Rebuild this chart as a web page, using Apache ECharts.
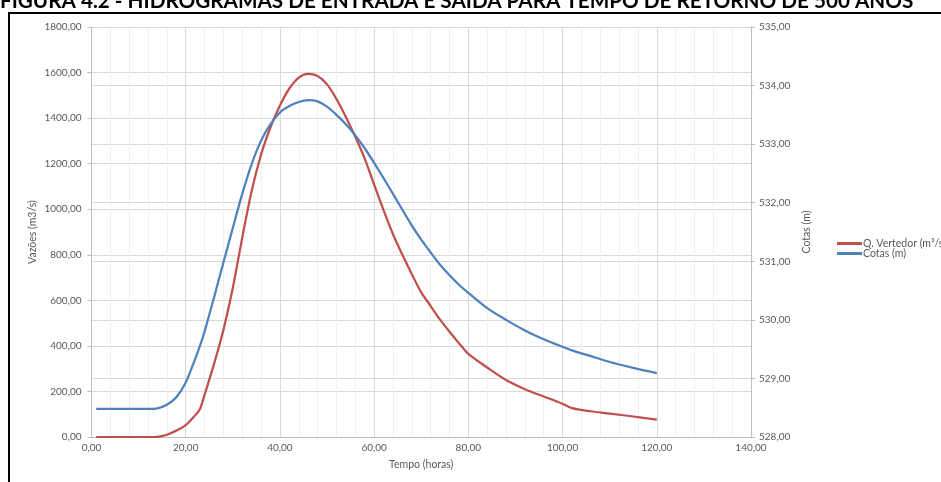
<!DOCTYPE html>
<html>
<head>
<meta charset="utf-8">
<script src="https://cdn.jsdelivr.net/npm/echarts@6/dist/echarts.min.js"></script>
<style>
html,body{margin:0;padding:0;background:#fff;}
#chart{width:941px;height:482px;}
</style>
</head>
<body>
<div id="chart"></div>
<script>
const titleText = 'FIGURA 4.2 - HIDROGRAMAS DE ENTRADA E SAÍDA PARA TEMPO DE RETORNO DE 500 ANOS';
const seriesNames = ['Q. Vertedor (m³/s)', 'Cotas (m)'];
const hours = [1, 4, 8, 12, 14, 16, 18, 20, 22, 23, 24, 26, 28, 30, 32, 34, 36, 38, 40, 42, 44, 46, 48, 50, 52, 54, 56, 58, 60, 62, 64, 66, 68, 70, 72, 74, 76, 78, 80, 84, 88, 92, 96, 100, 102, 106, 110, 115, 120];
const qVertedor = [0, 0, 0, 0, 1, 10, 28, 52, 95, 122, 185, 320, 470, 655, 875, 1080, 1240, 1360, 1455, 1530, 1578, 1594, 1585, 1548, 1484, 1405, 1318, 1222, 1108, 996, 890, 800, 715, 635, 575, 515, 462, 412, 365, 305, 250, 210, 178, 146, 127, 113, 103, 90, 76];
const cotas = [528.48, 528.48, 528.48, 528.48, 528.49, 528.55, 528.68, 528.93, 529.33, 529.55, 529.80, 530.38, 530.98, 531.57, 532.15, 532.66, 533.06, 533.34, 533.54, 533.65, 533.72, 533.75, 533.73, 533.64, 533.50, 533.34, 533.15, 532.93, 532.68, 532.42, 532.15, 531.88, 531.61, 531.37, 531.15, 530.94, 530.76, 530.60, 530.46, 530.20, 530.00, 529.82, 529.67, 529.54, 529.48, 529.38, 529.28, 529.18, 529.09];

const fmt = v => v.toFixed(2).replace('.', ',');
const labelStyle = {color: '#595959', fontSize: 10, fontFamily: 'Lato'};

const chart = echarts.init(document.getElementById('chart'), null, {renderer: 'canvas'});
chart.setOption({
  animation: false,
  backgroundColor: '#fff',
  graphic: [
    {type: 'rect', shape: {x: 9, y: 13, width: 1000, height: 600}, style: {fill: 'none', stroke: '#000', lineWidth: 2}, z: 100},
    {type: 'text', left: 0, top: -9, style: {text: titleText, font: 'bold 20.7px Lato', fill: '#000'}, z: 100}
  ],
  grid: {left: 91.5, right: 190, top: 27, bottom: 45},
  legend: {
    orient: 'vertical', left: 832, top: 233, icon: 'rect', itemWidth: 25, itemHeight: 3, itemGap: -1,
    textStyle: {color: '#595959', fontSize: 10.5, fontFamily: 'Lato', padding: [0, 0, 0, -4]},
    data: seriesNames
  },
  xAxis: {
    type: 'value', min: 0, max: 140, interval: 20,
    name: 'Tempo (horas)', nameLocation: 'middle', nameGap: 22,
    nameTextStyle: {color: '#595959', fontSize: 10.5, fontFamily: 'Lato'},
    axisLine: {show: true, lineStyle: {color: '#bfbfbf', width: 1}},
    axisTick: {show: false},
    axisLabel: Object.assign({formatter: fmt, margin: 6}, labelStyle),
    splitLine: {show: true, lineStyle: {color: '#d9d9d9', width: 1}},
    minorTick: {show: false, splitNumber: 5},
    minorSplitLine: {show: true, lineStyle: {color: '#efefef', width: 1}}
  },
  yAxis: [
    {
      type: 'value', min: 0, max: 1800, interval: 200, position: 'left',
      name: 'Vazões (m3/s)', nameLocation: 'middle', nameGap: 53, nameMoveOverlap: false,
      nameTextStyle: {color: '#595959', fontSize: 10.5, fontFamily: 'Lato'},
      axisLine: {show: true, lineStyle: {color: '#bfbfbf'}},
      axisTick: {show: true, length: 4, lineStyle: {color: '#bfbfbf'}},
      axisLabel: Object.assign({formatter: fmt, margin: 10}, labelStyle),
      splitLine: {show: true, lineStyle: {color: '#d9d9d9', width: 1}}
    },
    {
      type: 'value', min: 528, max: 535, interval: 1, position: 'right',
      name: 'Cotas (m)', nameLocation: 'middle', nameGap: 50,
      nameTextStyle: {color: '#595959', fontSize: 10.5, fontFamily: 'Lato'},
      axisLine: {show: true, lineStyle: {color: '#bfbfbf'}},
      axisTick: {show: true, length: 4, lineStyle: {color: '#bfbfbf'}},
      axisLabel: Object.assign({formatter: fmt, margin: 8}, labelStyle),
      splitLine: {show: true, lineStyle: {color: '#d9d9d9', width: 1}}
    }
  ],
  series: [
    {
      name: seriesNames[0], type: 'line', yAxisIndex: 0, smooth: 0.3, showSymbol: false,
      lineStyle: {color: '#C0504D', width: 2.25}, itemStyle: {color: '#C0504D'},
      data: hours.map((h, i) => [h, qVertedor[i]])
    },
    {
      name: seriesNames[1], type: 'line', yAxisIndex: 1, smooth: 0.3, showSymbol: false,
      lineStyle: {color: '#4F81BD', width: 2.25}, itemStyle: {color: '#4F81BD'},
      data: hours.map((h, i) => [h, cotas[i]])
    }
  ]
});
</script>
</body>
</html>
